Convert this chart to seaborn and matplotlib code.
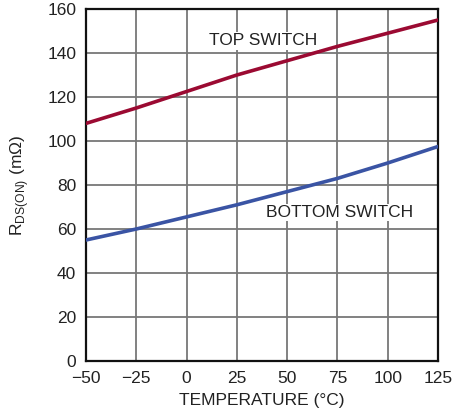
import matplotlib
matplotlib.use("Agg")
import matplotlib.pyplot as plt
import seaborn as sns
import pandas as pd

temps = [-50, -25, 0, 25, 50, 75, 100, 125]
top_switch = [108, 115, 122.5, 130, 136.5, 143, 149, 155]
bottom_switch = [55, 60, 65.5, 71, 77, 83, 90, 97.5]
x_ticks = [-50, -25, 0, 25, 50, 75, 100, 125]
x_tick_labels = ["\u221250", "\u221225", "0", "25", "50", "75", "100", "125"]
y_ticks = [0, 20, 40, 60, 80, 100, 120, 140, 160]

sns.set_style("white")
plt.rcParams['font.family'] = ['Liberation Sans Narrow', 'Liberation Sans', 'DejaVu Sans']

df = pd.DataFrame({
    "temp": temps * 2,
    "r": top_switch + bottom_switch,
    "switch": ["TOP"] * len(temps) + ["BOTTOM"] * len(temps),
})

fig = plt.figure(figsize=(4.54, 4.17), dpi=100)
ax = fig.add_axes([86/454, 1 - 361/417, 352/454, 352/417])

sns.lineplot(data=df, x="temp", y="r", hue="switch",
             palette={"TOP": "#9b0a32", "BOTTOM": "#3a54a4"},
             linewidth=2.6, ax=ax, legend=False, zorder=3)

ax.set_xlim(-50, 125)
ax.set_ylim(0, 160)
ax.set_xticks(x_ticks)
ax.set_xticklabels(x_tick_labels)
ax.set_yticks(y_ticks)
ax.grid(True, color="#777777", linewidth=1.3)
ax.tick_params(axis="both", length=0, labelsize=12.5, colors="#222222")
ax.tick_params(axis="x", pad=7)
ax.tick_params(axis="y", pad=7)
for s in ax.spines.values():
    s.set_color("#111111")
    s.set_linewidth(1.6)
    s.set_visible(True)

ax.set_xlabel("TEMPERATURE (\u00b0C)", fontsize=12.5, color="#222222", labelpad=5)
ax.set_ylabel(r"R$_{\mathregular{DS(ON)}}$" + " (m\u03a9)", fontsize=12.5, color="#222222", labelpad=12)

ax.text(38, 145.5, "TOP SWITCH", fontsize=12.5, color="#222222", ha="center", va="center",
        bbox=dict(facecolor="white", edgecolor="none", pad=1), zorder=4)
ax.text(76, 67.5, "BOTTOM SWITCH", fontsize=12.5, color="#222222", ha="center", va="center",
        bbox=dict(facecolor="white", edgecolor="none", pad=1), zorder=4)

fig.savefig("out.png", dpi=100)
